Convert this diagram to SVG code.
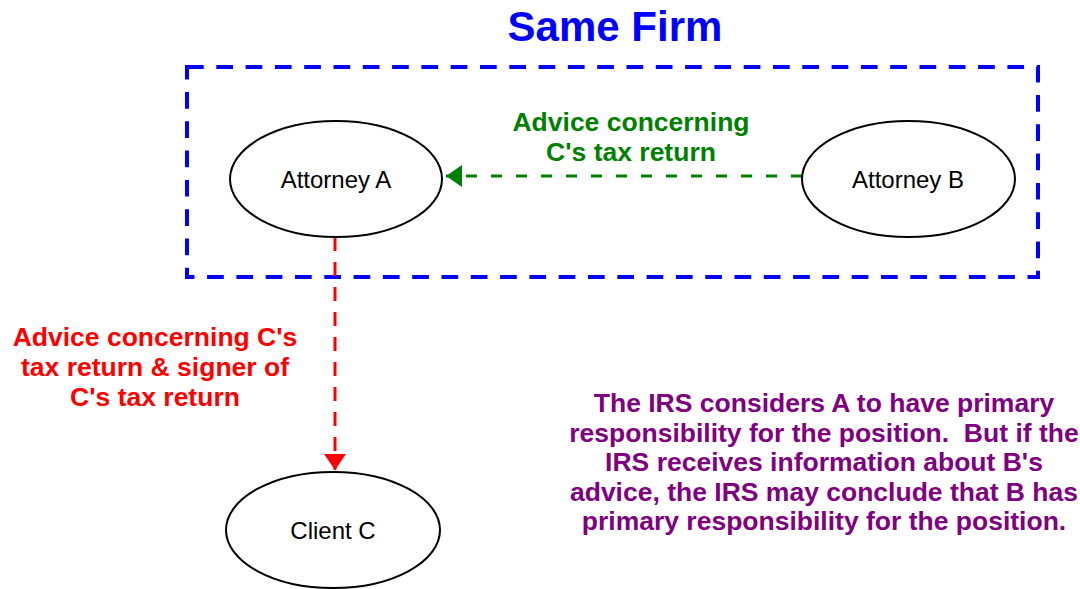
<svg xmlns="http://www.w3.org/2000/svg" width="1080" height="589" viewBox="0 0 1080 589">
<style>
.node{fill:#fff;stroke:#000;stroke-width:2}
.nl{font-family:"Liberation Sans",Arial,sans-serif;font-size:24px;fill:#000;text-anchor:middle}
.bt{font-family:"Liberation Sans",Arial,sans-serif;font-size:26.5px;font-weight:bold;text-anchor:middle}
</style>
<defs>
<marker id="ag" markerUnits="userSpaceOnUse" markerWidth="20" markerHeight="24" refX="16" refY="11" orient="auto"><path d="M0,0 L16,11 L0,22 Z" fill="#008000"/></marker>
<marker id="ar" markerUnits="userSpaceOnUse" markerWidth="20" markerHeight="24" refX="16" refY="11" orient="auto"><path d="M0,0 L16,11 L0,22 Z" fill="#FF0000"/></marker>
</defs>
<rect width="1080" height="589" fill="#fff"/>
<g id="firm">
<rect x="187" y="67" width="851" height="210" fill="none" stroke="#0000FF" stroke-width="4" stroke-dasharray="16.7 12.6"/>
<text x="615" y="41" font-family="Liberation Sans,Arial,sans-serif" font-size="42" font-weight="bold" fill="#0000FF" text-anchor="middle">Same Firm</text>
</g>
<g id="connectors">
<line x1="802" y1="176" x2="446" y2="176" stroke="#008000" stroke-width="3" stroke-dasharray="11 14" marker-end="url(#ag)"/>
<line x1="335" y1="237" x2="335" y2="470" stroke="#FF0000" stroke-width="3" stroke-dasharray="14 11" marker-end="url(#ar)"/>
<text class="bt" fill="#008000"><tspan x="631" y="131">Advice concerning</tspan><tspan x="631" y="161">C's tax return</tspan></text>
<text class="bt" fill="#FF0000"><tspan x="155" y="346">Advice concerning C's</tspan><tspan x="155" y="376">tax return &amp; signer of</tspan><tspan x="155" y="406">C's tax return</tspan></text>
</g>
<g id="attorneyA">
<ellipse class="node" cx="336" cy="179" rx="106" ry="58"/>
<text class="nl" x="336" y="188">Attorney A</text>
</g>
<g id="attorneyB">
<ellipse class="node" cx="908.5" cy="179" rx="106.5" ry="58"/>
<text class="nl" x="908" y="188">Attorney B</text>
</g>
<g id="clientC">
<ellipse class="node" cx="333" cy="530" rx="107" ry="58"/>
<text class="nl" x="333" y="539">Client C</text>
</g>
<g id="note">
<text class="bt" fill="#800080" xml:space="preserve"><tspan x="824" y="412">The IRS considers A to have primary</tspan><tspan x="824" y="441.5">responsibility for the position.  But if the</tspan><tspan x="824" y="471">IRS receives information about B's</tspan><tspan x="824" y="500.5">advice, the IRS may conclude that B has</tspan><tspan x="824" y="530">primary responsibility for the position.</tspan></text>
</g>
</svg>
